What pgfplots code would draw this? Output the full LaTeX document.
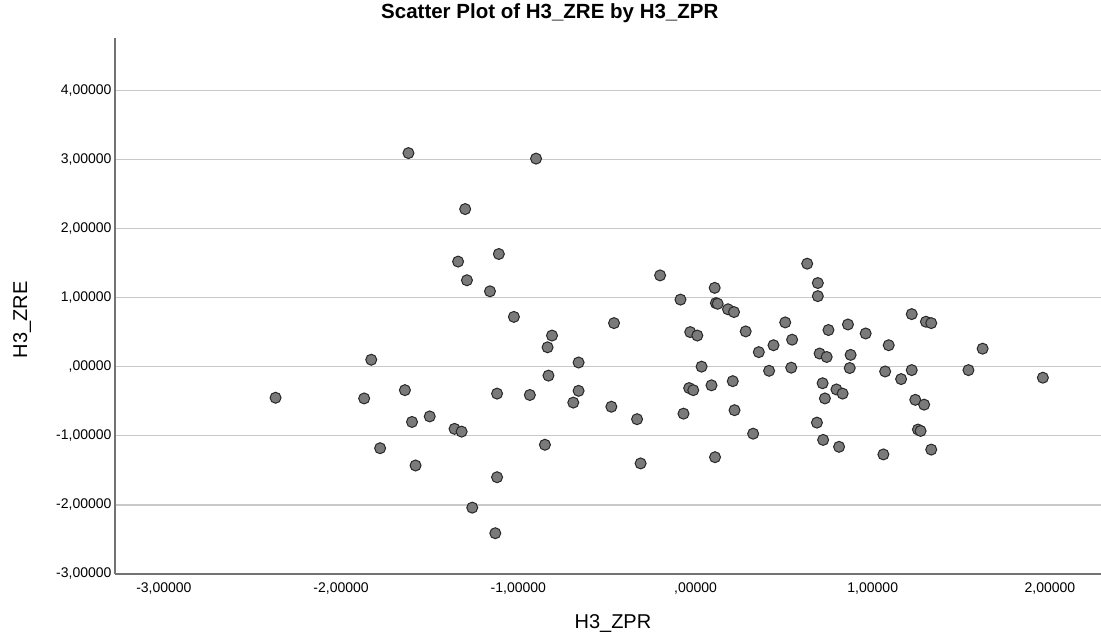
\documentclass[border=0pt]{standalone}
\usepackage{fontspec}
\setmainfont{Liberation Sans}
\usepackage{pgfplots}
\pgfplotsset{compat=1.18}
\definecolor{gridc}{RGB}{200,200,200}
\definecolor{axisc}{RGB}{115,115,115}
\definecolor{ptfill}{RGB}{122,122,122}
\definecolor{ptdraw}{RGB}{40,40,40}
\pgfplotstableread{
x y
-2.37 -0.45
-1.87 -0.46
-1.83 0.10
-1.78 -1.18
-1.64 -0.34
-1.60 -0.80
-1.50 -0.72
-1.58 -1.43
-1.36 -0.90
-1.32 -0.94
-1.26 -2.04
-1.13 -2.41
-1.12 -1.60
-1.12 -0.39
-1.29 1.25
-1.16 1.09
-1.62 3.09
-1.30 2.28
-1.34 1.52
-1.11 1.63
-0.90 3.01
-0.20 1.32
-0.085 0.97
0.108 1.14
0.115 0.92
0.125 0.91
0.183 0.83
0.217 0.79
0.63 1.49
0.69 1.21
0.69 1.02
-1.025 0.72
-0.81 0.45
-0.835 0.28
-0.83 -0.13
-0.935 -0.41
-0.85 -1.13
-0.46 0.63
-0.66 0.06
-0.66 -0.35
-0.69 -0.52
-0.475 -0.58
-0.33 -0.76
-0.31 -1.40
-0.03 0.50
0.01 0.45
0.034 0.00
-0.036 -0.31
-0.013 -0.34
-0.068 -0.68
0.09 -0.27
0.21 -0.21
0.22 -0.63
0.11 -1.31
0.283 0.51
0.357 0.21
0.44 0.31
0.506 0.64
0.545 0.39
0.415 -0.06
0.54 -0.015
0.325 -0.97
0.75 0.53
0.70 0.19
0.74 0.14
0.717 -0.24
0.73 -0.46
0.795 -0.33
0.83 -0.39
0.685 -0.81
0.72 -1.06
0.81 -1.16
0.86 0.61
0.875 0.17
0.87 -0.02
0.96 0.48
1.09 0.31
1.07 -0.07
1.06 -1.27
1.16 -0.18
1.22 0.76
1.22 -0.05
1.30 0.65
1.33 0.63
1.24 -0.48
1.29 -0.55
1.255 -0.91
1.27 -0.93
1.33 -1.20
1.62 0.26
1.54 -0.05
1.96 -0.16
}\pts
\begin{document}
\begin{tikzpicture}
\useasboundingbox (-115bp,-70bp) rectangle (986bp,574bp);
\begin{axis}[
  at={(0,0)}, anchor=south west,
  scale only axis, width=986bp, height=536bp,
  xmin=-3.276, xmax=2.288, ymin=-3, ymax=4.755,
  axis x line=bottom, axis y line=left,
  axis line style={-, draw=axisc, line width=1.3bp},
  ymajorgrids, grid style={gridc, line width=1.3bp},
  major tick length=0,
  xtick={-3,-2,-1,0,1,2},
  xticklabels={{-3,00000},{-2,00000},{-1,00000},{,00000},{1,00000},{2,00000}},
  ytick={-3,-2,-1,0,1,2,3,4},
  yticklabels={{-3,00000},{-2,00000},{-1,00000},{,00000},{1,00000},{2,00000},{3,00000},{4,00000}},
  tick label style={font=\fontsize{14bp}{16bp}\selectfont},
  xticklabel style={yshift=-5bp},
  xlabel={H3\_ZPR},
  xlabel style={font=\fontsize{20bp}{24bp}\selectfont, at={(axis description cs:0.505,0)}, anchor=center, yshift=-50bp},
  ylabel={H3\_ZRE},
  ylabel style={font=\fontsize{20bp}{24bp}\selectfont, at={(axis description cs:-0.0943,0.474)}, anchor=center},
  title={Scatter Plot of H3\_ZRE by H3\_ZPR},
  title style={font=\bfseries\fontsize{20.5bp}{24bp}\selectfont, at={(axis description cs:0.441,1)}, anchor=center, yshift=19bp},
]
\addplot[only marks, mark=*, mark size=5.5bp, mark options={fill=ptfill, draw=ptdraw, line width=1bp}] table {\pts};
\end{axis}
\end{tikzpicture}
\end{document}
